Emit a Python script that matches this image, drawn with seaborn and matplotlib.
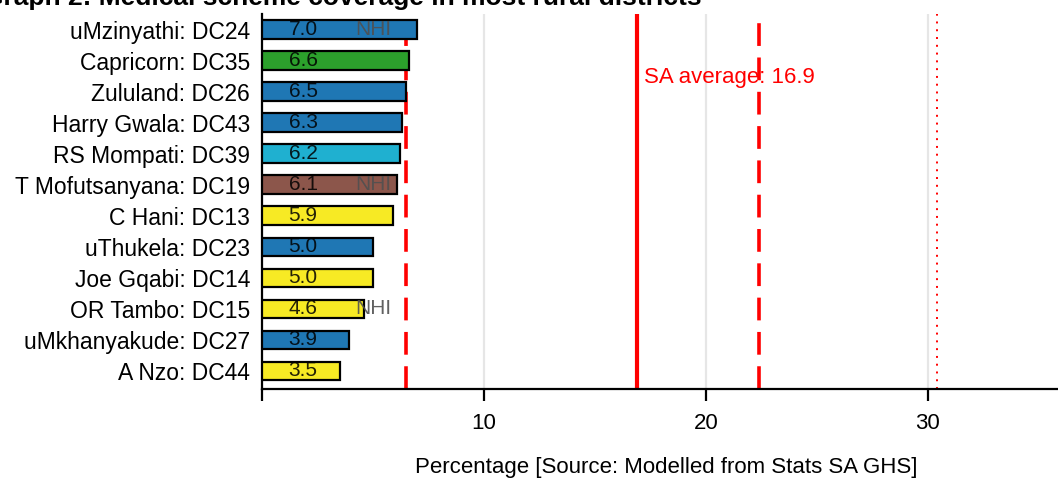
import matplotlib
matplotlib.use("Agg")
import matplotlib.pyplot as plt
import seaborn as sns
import pandas as pd

districts = ["uMzinyathi: DC24", "Capricorn: DC35", "Zululand: DC26", "Harry Gwala: DC43",
             "RS Mompati: DC39", "T Mofutsanyana: DC19", "C Hani: DC13", "uThukela: DC23",
             "Joe Gqabi: DC14", "OR Tambo: DC15", "uMkhanyakude: DC27", "A Nzo: DC44"]
values = [7.0, 6.6, 6.5, 6.3, 6.2, 6.1, 5.9, 5.0, 5.0, 4.6, 3.9, 3.5]
nhi = [True, False, False, False, False, True, False, False, False, True, False, False]
bar_colors = ["#1f77b4", "#2ca02c", "#1f77b4", "#1f77b4", "#1fb0d0", "#8c564b",
              "#f7ea24", "#1f77b4", "#f7ea24", "#f7ea24", "#1f77b4", "#f7ea24"]
sa_average = 16.9
lower_dash = 6.5
upper_dash = 22.4
dotted_ref = 30.4
xticks = [0, 10, 20, 30]
xtick_labels = ["", "10", "20", "30"]
title = "Graph 2: Medical scheme coverage in most rural districts"
xlabel = "Percentage [Source: Modelled from Stats SA GHS]"

sns.set_style("white")
plt.rcParams["font.family"] = ["Liberation Sans", "DejaVu Sans"]
plt.rcParams["text.color"] = "black"
plt.rcParams["axes.labelcolor"] = "black"
plt.rcParams["xtick.color"] = "black"
plt.rcParams["ytick.color"] = "black"

W, H = 1058, 478
fig = plt.figure(figsize=(W / 100, H / 100), dpi=100)
ax_left, ax_right, ax_top, ax_bottom = 262, 1070, 14, 389
ax = fig.add_axes([ax_left / W, (H - ax_bottom) / H, (ax_right - ax_left) / W, (ax_bottom - ax_top) / H])

df = pd.DataFrame({"district": districts, "value": values})
sns.barplot(data=df, x="value", y="district", hue="district", palette=bar_colors,
            order=districts, hue_order=districts, legend=False, width=0.6,
            saturation=1, edgecolor="black", linewidth=1.6, ax=ax, zorder=3)

ax.set_xlim(0, 36.4)
ax.set_ylim(11.58, -0.5)

# reference lines
ax.axvline(lower_dash, color="red", lw=2.6, dashes=(6.3, 3.2), zorder=1)
ax.axvline(sa_average, color="red", lw=3.0, zorder=1)
ax.axvline(upper_dash, color="red", lw=2.6, dashes=(6.3, 3.2), zorder=1)
ax.axvline(dotted_ref, color="red", lw=1.4, linestyle=(0, (1.0, 3.0)), zorder=1)
ax.text(sa_average + 0.3, 1.53, f"SA average: {sa_average}", color="red",
        fontsize=16, ha="left", va="center", zorder=4)

# value and NHI labels
for i, (v, flag) in enumerate(zip(values, nhi)):
    ax.text(1.85, i, f"{v:.1f}", ha="center", va="center", fontsize=15,
            color="black", alpha=0.85, zorder=5)
    if flag:
        ax.text(5.0, i, "NHI", ha="center", va="center", fontsize=15,
                color="#505050", alpha=0.9, zorder=5)

ax.set_xticks(xticks)
ax.set_xticklabels(xtick_labels)
ax.grid(axis="x", color="#e6e6e6", lw=1.6, zorder=0)
ax.grid(axis="y", visible=False)
ax.set_axisbelow(True)

for s in ["top", "right"]:
    ax.spines[s].set_visible(False)
for s in ["left", "bottom"]:
    ax.spines[s].set_color("black")
    ax.spines[s].set_linewidth(1.6)

ax.tick_params(axis="x", direction="out", length=8.6, width=1.6, color="black",
               labelsize=16, pad=9, bottom=True, labelcolor="black")
ax.tick_params(axis="y", length=0, labelsize=16.5, pad=8.6, left=False, labelcolor="black")
ax.set_ylabel("")
ax.set_xlabel(xlabel, fontsize=16, color="black")
ax.xaxis.set_label_coords(0.5, -0.182)
ax.xaxis.label.set_va("top")

fig.text(702 / W, 1 - 4.8 / H, title, ha="right", va="baseline",
         fontsize=19, fontweight="bold", color="black")

fig.savefig("out.png", dpi=100)
